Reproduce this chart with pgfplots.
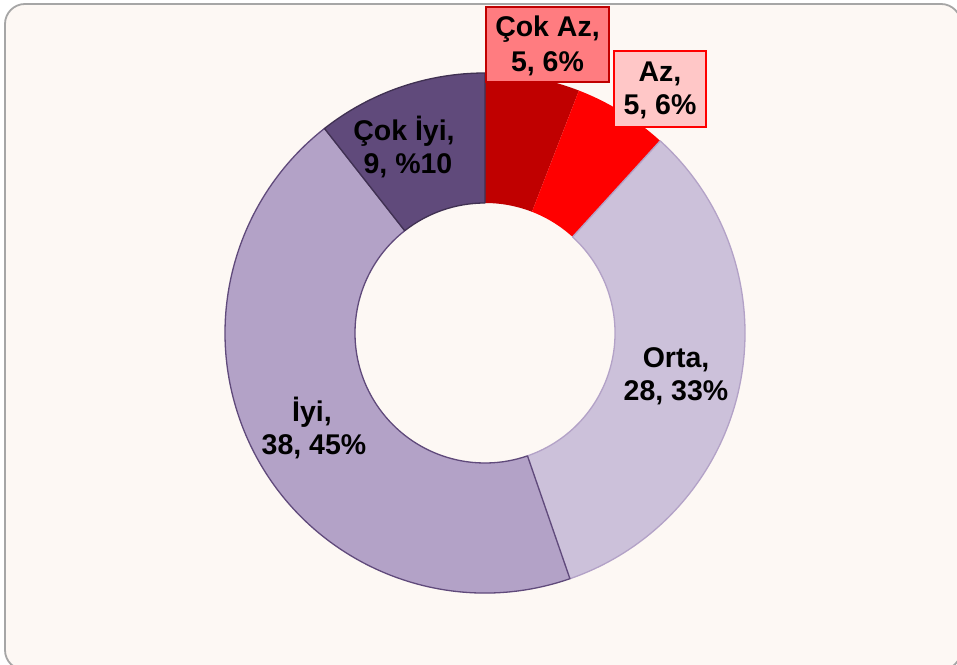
\documentclass[border=0pt]{standalone}
\usepackage{pgfplots}
\pgfplotsset{compat=1.18}
\usepackage{pgfplotstable}
\usepackage{fontspec}
\setmainfont{Liberation Sans}
\definecolor{bg}{HTML}{FDF8F4}
\definecolor{framec}{HTML}{A6A6A6}
\definecolor{cokaz}{HTML}{C00000}
\definecolor{az}{HTML}{FF0000}
\definecolor{orta}{HTML}{CCC1DA}
\definecolor{ortab}{HTML}{B3A2C7}
\definecolor{iyi}{HTML}{B3A2C7}
\definecolor{iyib}{HTML}{604A7B}
\definecolor{cokiyi}{HTML}{604A7B}
\definecolor{cokiyib}{HTML}{403152}
\definecolor{cokazbox}{HTML}{FF7C80}
\definecolor{azbox}{HTML}{FFC7C7}

\pgfplotstableread{
value
5
5
28
38
9
}\donutdata

\newcommand{\donutslice}[3]{%
  \path[fill=#2, draw=#3, line width=1.3pt, line join=round, shift={(axis cs:485,331)}]
    (\csname sa#1\endcsname:260pt)
    arc[start angle=\csname sa#1\endcsname, end angle=\csname sb#1\endcsname, radius=260pt]
    -- (\csname sb#1\endcsname:130pt)
    arc[start angle=\csname sb#1\endcsname, end angle=\csname sa#1\endcsname, radius=130pt]
    -- cycle;}
\newcommand{\lbl}{\bfseries\fontsize{28.5}{33}\selectfont}

\begin{document}
\begin{tikzpicture}
\pgfplotstablegetrowsof{\donutdata}
\pgfmathtruncatemacro\nrows{\pgfplotsretval-1}
\xdef\total{0}
\foreach \i in {0,...,\nrows}{%
  \pgfplotstablegetelem{\i}{value}\of\donutdata
  \pgfmathsetmacro\tmpsum{\total+\pgfplotsretval}%
  \xdef\total{\tmpsum}}
\xdef\cum{0}
\foreach \i in {0,...,\nrows}{%
  \pgfplotstablegetelem{\i}{value}\of\donutdata
  \pgfmathsetmacro\angstart{90-(\cum/\total)*360}%
  \pgfmathsetmacro\newcum{\cum+\pgfplotsretval}%
  \pgfmathsetmacro\angend{90-(\newcum/\total)*360}%
  \expandafter\xdef\csname sa\i\endcsname{\angstart}%
  \expandafter\xdef\csname sb\i\endcsname{\angend}%
  \xdef\cum{\newcum}}
\begin{axis}[name=a, scale only axis, width=957pt, height=664pt,
  xmin=0, xmax=957, ymin=0, ymax=664, hide axis, clip=false]
\fill[white] (axis cs:0,0) rectangle (axis cs:957,664);
\draw[framec, fill=bg, line width=1.8pt, rounded corners=20pt]
  (axis cs:5,660) rectangle (axis cs:961,-6);
\donutslice{0}{cokaz}{none}
\donutslice{1}{az}{none}
\donutslice{2}{orta}{ortab}
\donutslice{3}{iyi}{iyib}
\donutslice{4}{cokiyi}{cokiyib}
% label boxes
\draw[cokaz, fill=cokazbox, line width=1.5pt] (axis cs:486,657) rectangle (axis cs:609,582);
\draw[az, fill=azbox, line width=1.5pt] (axis cs:614,613) rectangle (axis cs:706,537);
% labels
\node[anchor=base, font=\lbl, inner sep=0pt] at (axis cs:547.5,627) {Çok Az,};
\node[anchor=base, font=\lbl, inner sep=0pt] at (axis cs:547.5,592.5) {5, 6\%};
\node[anchor=base, font=\lbl, inner sep=0pt] at (axis cs:660,582) {Az,};
\node[anchor=base, font=\lbl, inner sep=0pt] at (axis cs:660,549) {5, 6\%};
\node[anchor=base, font=\lbl, inner sep=0pt] at (axis cs:404,523) {Çok İyi,};
\node[anchor=base, font=\lbl, inner sep=0pt] at (axis cs:408,490) {9, \%10};
\node[anchor=base, font=\lbl, inner sep=0pt] at (axis cs:676,296) {Orta,};
\node[anchor=base, font=\lbl, inner sep=0pt] at (axis cs:676,263) {28, 33\%};
\node[anchor=base, font=\lbl, inner sep=0pt] at (axis cs:312,242.5) {İyi,};
\node[anchor=base, font=\lbl, inner sep=0pt] at (axis cs:314,210) {38, 45\%};
\end{axis}
\pgfresetboundingbox
\path (a.south west) rectangle (a.north east);
\end{tikzpicture}
\end{document}
